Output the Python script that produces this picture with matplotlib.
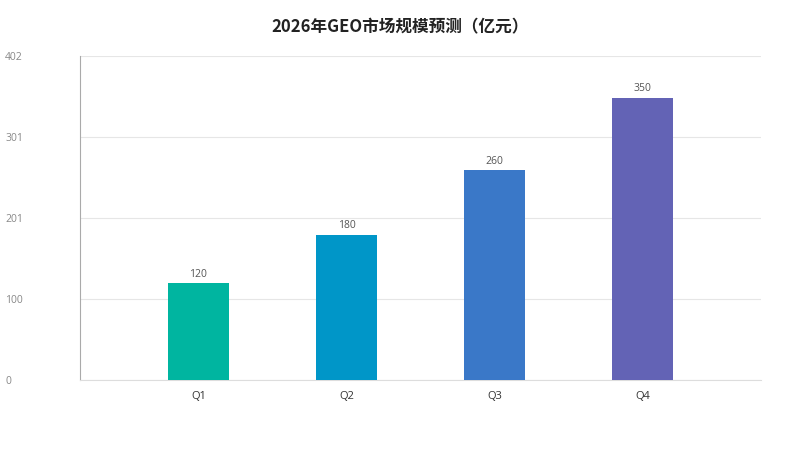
import matplotlib.pyplot as plt

plt.rcParams["font.family"] = ["Open Sans", "Noto Sans CJK SC", "DejaVu Sans"]

categorias = ["Q1", "Q2", "Q3", "Q4"]
valores = [120, 180, 260, 350]
cores = ["#00b5a0", "#0096c8", "#3a78c8", "#6363b5"]
y_ticks = [0, 100.5, 201, 301.5, 402]
y_labels = ["0", "100", "201", "301", "402"]
titulo = "2026年GEO市场规模预测（亿元）"


def gerar_grafico():
    fig = plt.figure(figsize=(8, 4.5), dpi=100)
    ax = fig.add_axes([0.1, 0.1556, 0.85125, 0.72])

    x = list(range(len(categorias)))
    barras = ax.bar(x, valores, width=0.41, color=cores, zorder=3)

    for barra, v in zip(barras, valores):
        ax.annotate(
            str(v),
            (barra.get_x() + barra.get_width() / 2, barra.get_height()),
            xytext=(0, 2.5),
            textcoords="offset points",
            ha="center",
            va="bottom",
            fontsize=7.5,
            color="#555555",
        )

    ax.set_xlim(-0.8, 3.8)
    ax.set_ylim(0, 402)
    ax.set_xticks(x)
    ax.set_xticklabels(categorias, fontsize=8, color="#333333")
    ax.set_yticks(y_ticks)
    ax.set_yticklabels(y_labels, fontsize=7.5, color="#888888")
    for lbl in ax.get_yticklabels():
        lbl.set_horizontalalignment("left")
    ax.tick_params(axis="y", length=0, pad=54)
    ax.tick_params(axis="x", length=0, pad=8)

    ax.grid(axis="y", color="#e6e6e6", linewidth=0.8, zorder=0)
    for lado in ["top", "right"]:
        ax.spines[lado].set_visible(False)
    ax.spines["left"].set_color("#aaaaaa")
    ax.spines["left"].set_linewidth(0.8)
    ax.spines["bottom"].set_color("#dddddd")
    ax.spines["bottom"].set_linewidth(0.8)

    fig.text(0.5, 0.94, titulo, ha="center", va="center",
             fontsize=12, fontweight="bold", color="#222222",
             family=["Noto Sans CJK SC", "DejaVu Sans"])

    fig.savefig("out.png", dpi=100)


if __name__ == "__main__":
    gerar_grafico()
